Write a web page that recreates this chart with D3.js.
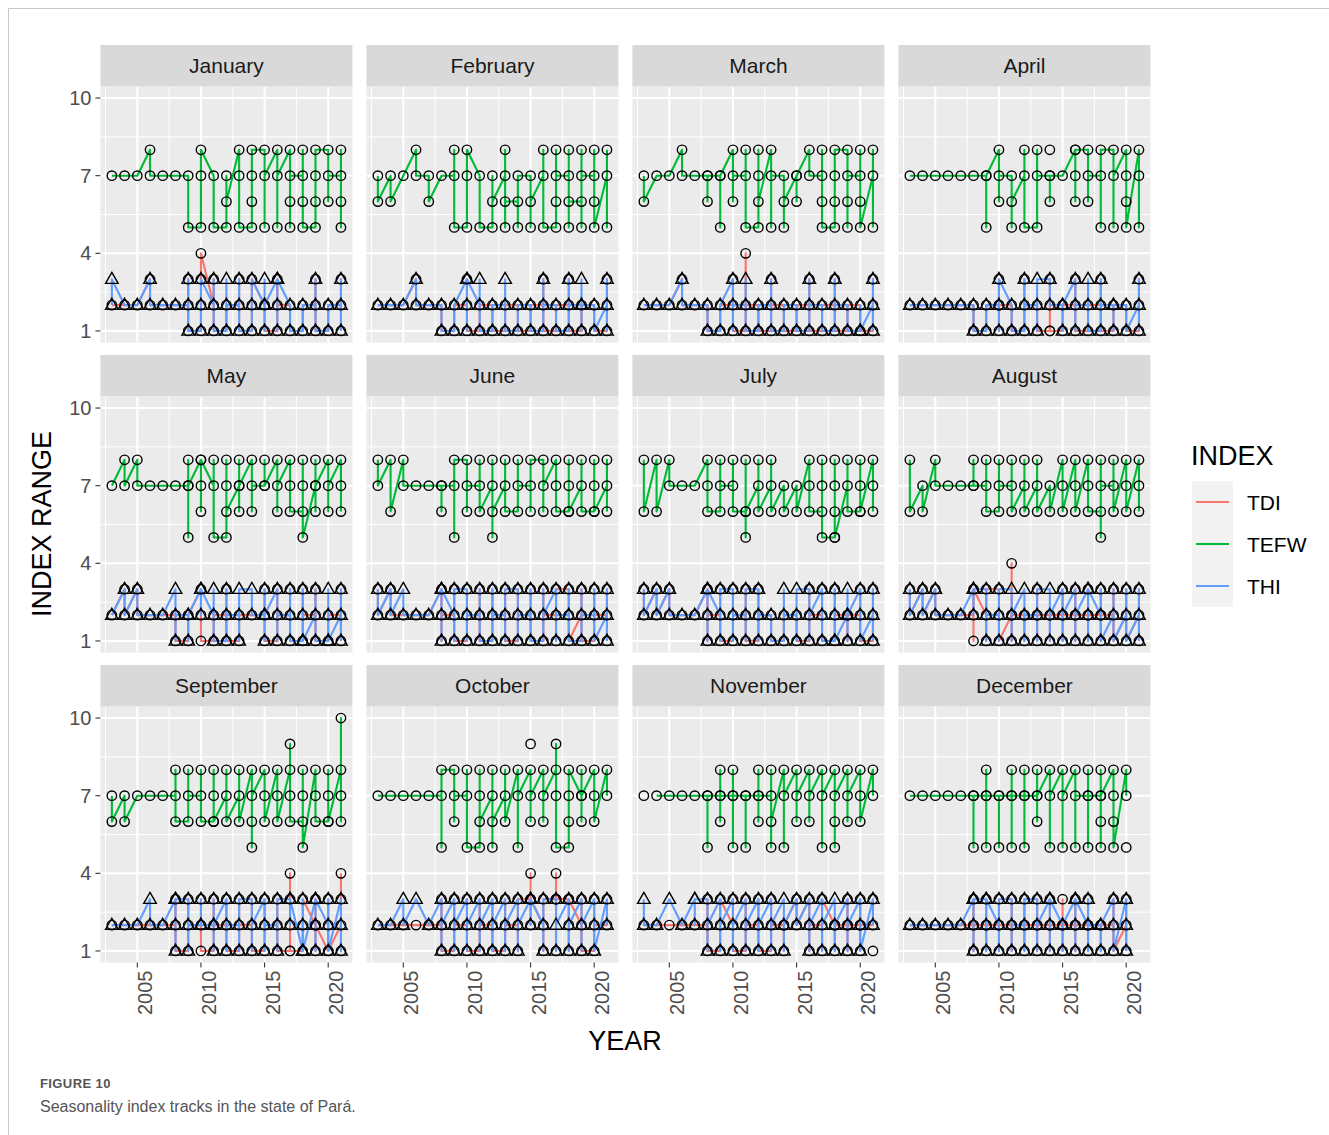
<!DOCTYPE html>
<html><head><meta charset="utf-8">
<script src="https://cdn.jsdelivr.net/npm/d3@7"></script>
<style>
body{margin:0;background:#fff;}
svg text{font-family:"Liberation Sans",Arial,sans-serif;}
</style>
</head><body>
<svg id="chart" width="1329" height="1135"></svg>
<script>
const MONTHS = ["January","February","March","April","May","June","July","August","September","October","November","December"];
const YEARS = [2003,2004,2005,2006,2007,2008,2009,2010,2011,2012,2013,2014,2015,2016,2017,2018,2019,2020,2021];
const INDEXES = ["TDI","TEFW","THI"];
const X_TICKS = [2005,2010,2015,2020];
const Y_TICKS = [1,4,7,10];

// Each entry = values observed in that year, in plotting order ("*" = point not joined by the line)
const TEFW_JAN = ["7","7","7","8 7","7","7","7 5","5 7 8","7 5","5 7 6","8 7 5","5 6 7 8","8 5 7","8 5 7","8 5 6 7","7 8 6 5","5 6 7 8","8 6 7","7 8 5 6"];
const THI_JAN  = ["2 3","2","2","3 2","2","2","2 3 1","1 2 3","2 3 1","1 3 2","2 3 1","1 2 3","2 1 3 2","3 2 1 3","2 1","1 2","2 3 1","1 2","2 3 1"];
const TDI_JAN  = ["2","2","2","3 2","2","2","2 3 1","1 2 3 4","2 3 1","1 2","2 3 1","1 2 3","2 1","1 3 2","2 1","1 2","2 3 1","1 2","2 3 1"];

const TEFW_FEB = ["7 6","7 6","7","8 7","7 6","7","7 8 5","5 7 8","7 5","5 7 6","7 8 5 6","6 5 7","7 5 6","7 8 5","5 6 8 7","7 8 5 6","6 5 8 7","7 8 6 5","7 5 8"];
const THI_FEB  = ["2","2","2","3 2","2","2 1","1 2","3 1 2 3","2 3 1","1 2","2 3 1","1 2","2 1","1 3 2","2 1","1 3 2","2 3 1 2","2 1","2 3 1"];
const TDI_FEB  = ["2","2","2","3 2","2","2 1","1 2","2 3 1","1 2","2 1","1 2","2 1","1 2","2 3 1","1 2","2 3 1","1 2","2 1","1 3 2"];

const TEFW_MAR = ["7 6","7","7","8 7","7","7 6 7","7 5 7","8 6 7","7 8 5","5 8 7 6","8 5 7","7 5 6","7 6 7","8 7","7 8 6 5","5 6 7 8","8 5 6 7","7 8 6 5","7 8 5"];
const THI_MAR  = ["2","2","2","3 2","2","2 1","1 2","3 1 2","2 3 1","1 2","2 3 1","1 2","2 1","1 3 2","2 1","1 3 2","2 1","1 2 1","2 3 1"];
const TDI_MAR  = ["2","2","2","3 2","2","2 1","1 2","2 3 1","1 4 2","2 1","1 3 2","2 1","1 2","2 3 1","1 2","2 3 1","1 2","2 1","1 3 2"];

const TEFW_APR = ["7","7","7","7","7","7","7 5 7","8 6 7","7 5 6","7 8 5","5 8 7","7 6 7 8*","7","8 7 6 8","8 6 7","7 5 8","8 5 7","8 7 6 5","8 5 7"];
const THI_APR  = ["2","2","2","2","2","2 1","1 2","2 1 3","2 1","1 3 2","2 1 3","3 2","2 1 2","3 1 2","2 3 1","1 3 2","2 1 2","2 1","2 3 1"];
const TDI_APR  = ["2","2","2","2","2","2 1","1 2","2 3 1 2","2 1","1 3 2","2 1","1 3 2 1","1 2","2 3 1","1 2","2 3 1","1 2","2 1","1 3 2"];

const TEFW_MAY = ["7","8 7","8 7","7","7","7","7 8 5 7","8 7 6 8","7 8 5","5 8 7 6","7 8 6 7","8 6 7","7 8 7","8 6 7","8 7 6","6 8 7 5","7 6 8 7","8 6 7","8 7 6"];
const THI_MAY  = ["2","3 2","3 2","2","2","3 1 2","2 1 2","3 2 3","2 3 1","1 3 2","2 1 3","3 2","2 3 1 2","3 1 2","2 3 1","1 3 2 1","2 3 1","1 2 3 1","2 3 1"];
const TDI_MAY  = ["2","3 2","3 2","2","2","2 1","1 2","3 2 1","1 2","2 3 1","1 2","2","2 3 1","1 3 2","2 3 1","1 3 2","2 3 1","1 2","2 3 1"];

const TEFW_JUN = ["8 7","8 6","8 7","7","7","7 6 7","7 5 8","8 6 7","7 8 6","7 5 8 6","7 8 6","6 8 7","7 6 8","8 6 7","8 7 6","6 8 7 6","7 8 6","6 8 7 6","7 8 6"];
const THI_JUN  = ["3 2","3 2","3 2","2","2","3 1 2 3","2 1 3","3 1 2","2 3 1","1 3 2","2 1 3","3 1 2","2 3 1","1 3 2","3 1 2","2 3 1","1 3 2","2 3 1","2 3 1"];
const TDI_JUN  = ["3 2","3 2","2","2","2","3 1 2","2 3 1","1 3 2","2 3 1","1 3 2","2 3 1","1 3 2","2 3 1","1 3 2","2 1 3","3 2 1","2 3 1","1 3 2","2 3 1"];

const TEFW_JUL = ["8 6","8 6","8 7","7","7","8 7 6","6 8 7","7 8 6","6 8 5 6","7 8 6","7 8 6","7 6","7 6","8 7 6","6 8 7 5","5 8 7 6 5","7 8 6","6 8 7 6","8 7 6"];
const THI_JUL  = ["3 2","3 2","3 2","2","2","3 1 2 3","2 1 3","3 1 2","2 1 3","3 1 2","2 1","1 3 2","2 1 3","3 1 2","3 2 1","1 3 2 1","2 1 3 2","3 2 1","2 3 1"];
const TDI_JUL  = ["3 2","3 2","3 2","2","2","3 1 2","2 3 1","1 3 2","2 3 1","1 3 2","2 1","1 2","2 1","1 3 2","2 3 1","1 3 2","2 1 2","2 3 1","1 3 2"];

const TEFW_AUG = ["8 6","7 6","8 7","7","7","7 8 7","7 8 6","6 8 7","7 8 6","7 8 6","7 8 6","7 6","8 7 6","8 7 6","8 7 6","6 8 5 7","7 8 6","8 7 6","8 7 6"];
const THI_AUG  = ["3 2","3 2","3 2","2","2","3 2 3","3 1 2","2 1 3","3 1 2","3 1 2","2 1 3","3 1 2","3 1 2","3 1 2","3 1 2 3","2 3 1","2 3 1","2 3 1","2 3 1"];
const TDI_AUG  = ["3 2","3 2","3 2","2","2","2 1 3","2 1 3","3 2 1","2 1 4 2","2 1 2","2 3 1 2","2 1 2","2 3 1 2","2 3 1 2","2 3 1 2","2 3 1 2","2 3 1","2 3 1","2 3 1"];

const TEFW_SEP = ["7 6","7 6","7","7","7","7 8 6","6 8 7","7 8 6","6 8 7 6","7 8 6","7 8 6","8 5 6 7","8 7 6","8 7 6","8 9 7 6","6 8 7 5","8 7 6","6 8 7 6","8 10 6 7"];
const THI_SEP  = ["2","2","2","3 2","2","3 1 2 3","3 1 2","2 3 2","2 3 1 2","3 1 2","2 1 3","3 1 2","3 1 2","2 1 3","3 2 3","1 3 2 1","3 1 2 3","2 3 1","3 1 2"];
const TDI_SEP  = ["2","2","2","2","2","2 3 1","1 3 2","2 3 1","1 3 2","2 3 1","1 3 2","2 3 1","1 3 2","2 3 1","1 3 4 2 1","1 2 3","2 3 1 2","1 3 2 1","2 1 3 4"];

const TEFW_OCT = ["7","7","7","7","7","7 5 8","8 6 7","7 8 5","5 8 7 6","7 8 5 6","7 8 6","8 5 7","8 6 7 9*","8 6 7","8 9 7 5","5 6 7 8","7 8 6 7","8 7 6","8 7"];
const THI_OCT  = ["2","2","3 2","3","2","3 1 2","3 1 2","3 1 2","3 1 2","3 1 2","3 1 2","3 1 2","3 2 3","2 1 3","3 1 2","3 1 2","3 1 2","3 2 1","3 2"];
const TDI_OCT  = ["2","2","2","2","2","2 3 1","1 3 2","2 3 1","1 3 2","2 3 1","1 3 2","2 1 3","3 2 4 3","2 1 3","3 1 4 3","3 1 2 3","2 3 1","1 3 2","2 3"];

const TEFW_NOV = ["7*","7","7","7","7","7 5 7","7 8 6 7","7 8 5 7","7 5 7","7 8 6 7","7 8 5 6","8 5 7","8 6 7","8 6 7","8 5 7","8 5 6 7","8 6 7","8 7 6","8 7"];
const THI_NOV  = ["3 2","2","3","2","3 2 3","3 1 2","3 1 2","3 1 2","3 1 2","3 1 2","3 1 2","3 1 2","3 2","3 1 2","3 1 2","3 1 2","3 1 2","3 2 1","3 2"];
const TDI_NOV  = ["2","2","2","2","2","2 3 1","1 2 3","2 3 1","1 3 2","2 3 1","1 3 2","2 1 2","3 2","3 1 2","2 1 3","2 1 2","2 3 1 2","2 3 1 2","2 3 1*"];

const TEFW_DEC = ["7","7","7","7","7","7 5 7","7 8 5 7","7 5 7","7 8 5 7","7 8 5 7","7 8 6 7","8 5 7","8 5 7","8 5 7","7 8 5 7","7 5 6 8 7","8 6 7 5","8 7 5*",""];
const THI_DEC  = ["2","2","2","2","2","3 1 2 3","3 1 2 3","2 1 3","3 1 2","2 1 3","3 1 2","3 1 2 3","2 1 2","3 1 2 3","2 3 1 2","2 1 2","3 2 1","3 2 1",""];
const TDI_DEC  = ["2","2","2","2","2","2 3 1 2","2 3 1 2","2 3 1 2","2 3 1 2","2 3 1 2","2 3 1 2","2 3 1 2","2 3 1 2","2 3 1 2","2 3 1 2","2 1 2","2 3 1","2 3 1",""];

const SERIES = {
  TDI:  [TDI_JAN,TDI_FEB,TDI_MAR,TDI_APR,TDI_MAY,TDI_JUN,TDI_JUL,TDI_AUG,TDI_SEP,TDI_OCT,TDI_NOV,TDI_DEC],
  TEFW: [TEFW_JAN,TEFW_FEB,TEFW_MAR,TEFW_APR,TEFW_MAY,TEFW_JUN,TEFW_JUL,TEFW_AUG,TEFW_SEP,TEFW_OCT,TEFW_NOV,TEFW_DEC],
  THI:  [THI_JAN,THI_FEB,THI_MAR,THI_APR,THI_MAY,THI_JUN,THI_JUL,THI_AUG,THI_SEP,THI_OCT,THI_NOV,THI_DEC]
};
const COLORS = {TDI:"#F8766D", TEFW:"#00BA38", THI:"#619CFF"};
const SHAPES = {TDI:"circle", TEFW:"circle", THI:"triangle"};

// ---------- layout ----------
const svg = d3.select("#chart");
const panelW = 252, panelH = 256.2, left0 = 100.4, top0 = 86.4, colStep = 266, rowStep = 310, stripH = 41.4;
const x = d3.scaleLinear().domain([2002.1, 2021.9]).range([0, panelW]);
const y = d3.scaleLinear().domain([0.55, 10.45]).range([panelH, 0]);
const minorX = [2002.5, 2007.5, 2012.5, 2017.5];
const minorY = [2.5, 5.5, 8.5];

// frame
svg.append("path").attr("d","M8.5,1135 V8.5 H1329").attr("fill","none").attr("stroke","#c8c8c8").attr("stroke-width",1);

function parse(arr){
  const pts = [], line = [];
  arr.forEach((s, i) => {
    const yr = YEARS[i];
    s.trim().split(/\s+/).filter(t => t.length).forEach(t => {
      const iso = t.endsWith("*");
      const v = parseFloat(t);
      pts.push({year: yr, v});
      if (!iso) line.push({year: yr, v});
    });
  });
  return {pts, line};
}

const lineGen = d3.line().x(d => x(d.year)).y(d => y(d.v));
const triPath = "M0,-6.8 L6.3,4.2 L-6.3,4.2 Z";

MONTHS.forEach((m, mi) => {
  const c = mi % 4, r = Math.floor(mi / 4);
  const g = svg.append("g").attr("transform", `translate(${left0 + c*colStep},${top0 + r*rowStep})`);
  g.append("rect").attr("width", panelW).attr("height", panelH).attr("fill", "#EBEBEB");
  g.selectAll(".mnx").data(minorX).join("line").attr("x1", d => x(d)).attr("x2", d => x(d)).attr("y1", 0).attr("y2", panelH).attr("stroke", "#fff").attr("stroke-width", 1);
  g.selectAll(".mny").data(minorY).join("line").attr("y1", d => y(d)).attr("y2", d => y(d)).attr("x1", 0).attr("x2", panelW).attr("stroke", "#fff").attr("stroke-width", 1);
  g.selectAll(".mjx").data(X_TICKS).join("line").attr("x1", d => x(d)).attr("x2", d => x(d)).attr("y1", 0).attr("y2", panelH).attr("stroke", "#fff").attr("stroke-width", 2);
  g.selectAll(".mjy").data(Y_TICKS).join("line").attr("y1", d => y(d)).attr("y2", d => y(d)).attr("x1", 0).attr("x2", panelW).attr("stroke", "#fff").attr("stroke-width", 2);

  // strip
  g.append("rect").attr("y", -stripH).attr("width", panelW).attr("height", stripH).attr("fill", "#D9D9D9");
  g.append("text").attr("x", panelW/2).attr("y", -stripH/2).attr("text-anchor", "middle").attr("dominant-baseline", "central")
    .attr("font-size", 21).attr("fill", "#1A1A1A").text(m);

  const parsed = {};
  INDEXES.forEach(k => parsed[k] = parse(SERIES[k][mi]));
  INDEXES.forEach(k => {
    g.append("path").attr("d", lineGen(parsed[k].line)).attr("fill", "none")
      .attr("stroke", COLORS[k]).attr("stroke-width", 2.1).attr("stroke-linejoin", "round");
  });
  INDEXES.forEach(k => {
    const pg = g.append("g");
    parsed[k].pts.forEach(p => {
      if (SHAPES[k] === "circle") {
        pg.append("circle").attr("cx", x(p.year)).attr("cy", y(p.v)).attr("r", 4.7)
          .attr("fill", "none").attr("stroke", "#000").attr("stroke-width", 1.4);
      } else {
        pg.append("path").attr("d", triPath).attr("transform", `translate(${x(p.year)},${y(p.v)})`)
          .attr("fill", "none").attr("stroke", "#000").attr("stroke-width", 1.4).attr("stroke-linejoin", "miter");
      }
    });
  });

  // y axis
  if (c === 0) {
    Y_TICKS.forEach(t => {
      g.append("line").attr("x1", -5).attr("x2", 0).attr("y1", y(t)).attr("y2", y(t)).attr("stroke", "#333").attr("stroke-width", 1.1);
      g.append("text").attr("x", -9).attr("y", y(t)).attr("text-anchor", "end").attr("dominant-baseline", "central")
        .attr("font-size", 20).attr("fill", "#4D4D4D").text(t);
    });
  }
  // x axis
  if (r === 2) {
    X_TICKS.forEach(t => {
      g.append("line").attr("x1", x(t)).attr("x2", x(t)).attr("y1", panelH).attr("y2", panelH + 5).attr("stroke", "#333").attr("stroke-width", 1.1);
      g.append("text").attr("transform", `translate(${x(t) + 15},${panelH + 8}) rotate(-90)`)
        .attr("text-anchor", "end").attr("font-size", 20).attr("fill", "#4D4D4D").text(t);
    });
  }
});

// axis titles
svg.append("text").attr("transform", "translate(51,524) rotate(-90)").attr("text-anchor", "middle")
  .attr("font-size", 27).attr("fill", "#000").text("INDEX RANGE");
svg.append("text").attr("x", 625).attr("y", 1050).attr("text-anchor", "middle")
  .attr("font-size", 27).attr("fill", "#000").text("YEAR");

// legend
const lg = svg.append("g").attr("transform", "translate(1191,0)");
lg.append("text").attr("x", 0).attr("y", 465).attr("font-size", 27).attr("fill", "#000").text("INDEX");
INDEXES.forEach((k, i) => {
  const cy = 502 + i*42;
  lg.append("rect").attr("x", 1).attr("y", cy - 21).attr("width", 41).attr("height", 42).attr("fill", "#F2F2F2");
  lg.append("line").attr("x1", 5).attr("x2", 38).attr("y1", cy).attr("y2", cy).attr("stroke", COLORS[k]).attr("stroke-width", 2.1);
  lg.append("text").attr("x", 56).attr("y", cy).attr("dominant-baseline", "central").attr("font-size", 21).attr("fill", "#000").text(k);
});

// caption
svg.append("text").attr("x", 40).attr("y", 1088).attr("font-family", "'Open Sans', sans-serif").attr("font-size", 13)
  .attr("font-weight", 600).attr("letter-spacing", 0.4).attr("fill", "#555").text("FIGURE 10");
svg.append("text").attr("x", 40).attr("y", 1112).attr("font-family", "'Open Sans', sans-serif").attr("font-size", 16)
  .attr("fill", "#555").text("Seasonality index tracks in the state of Pará.");
</script>
</body></html>
